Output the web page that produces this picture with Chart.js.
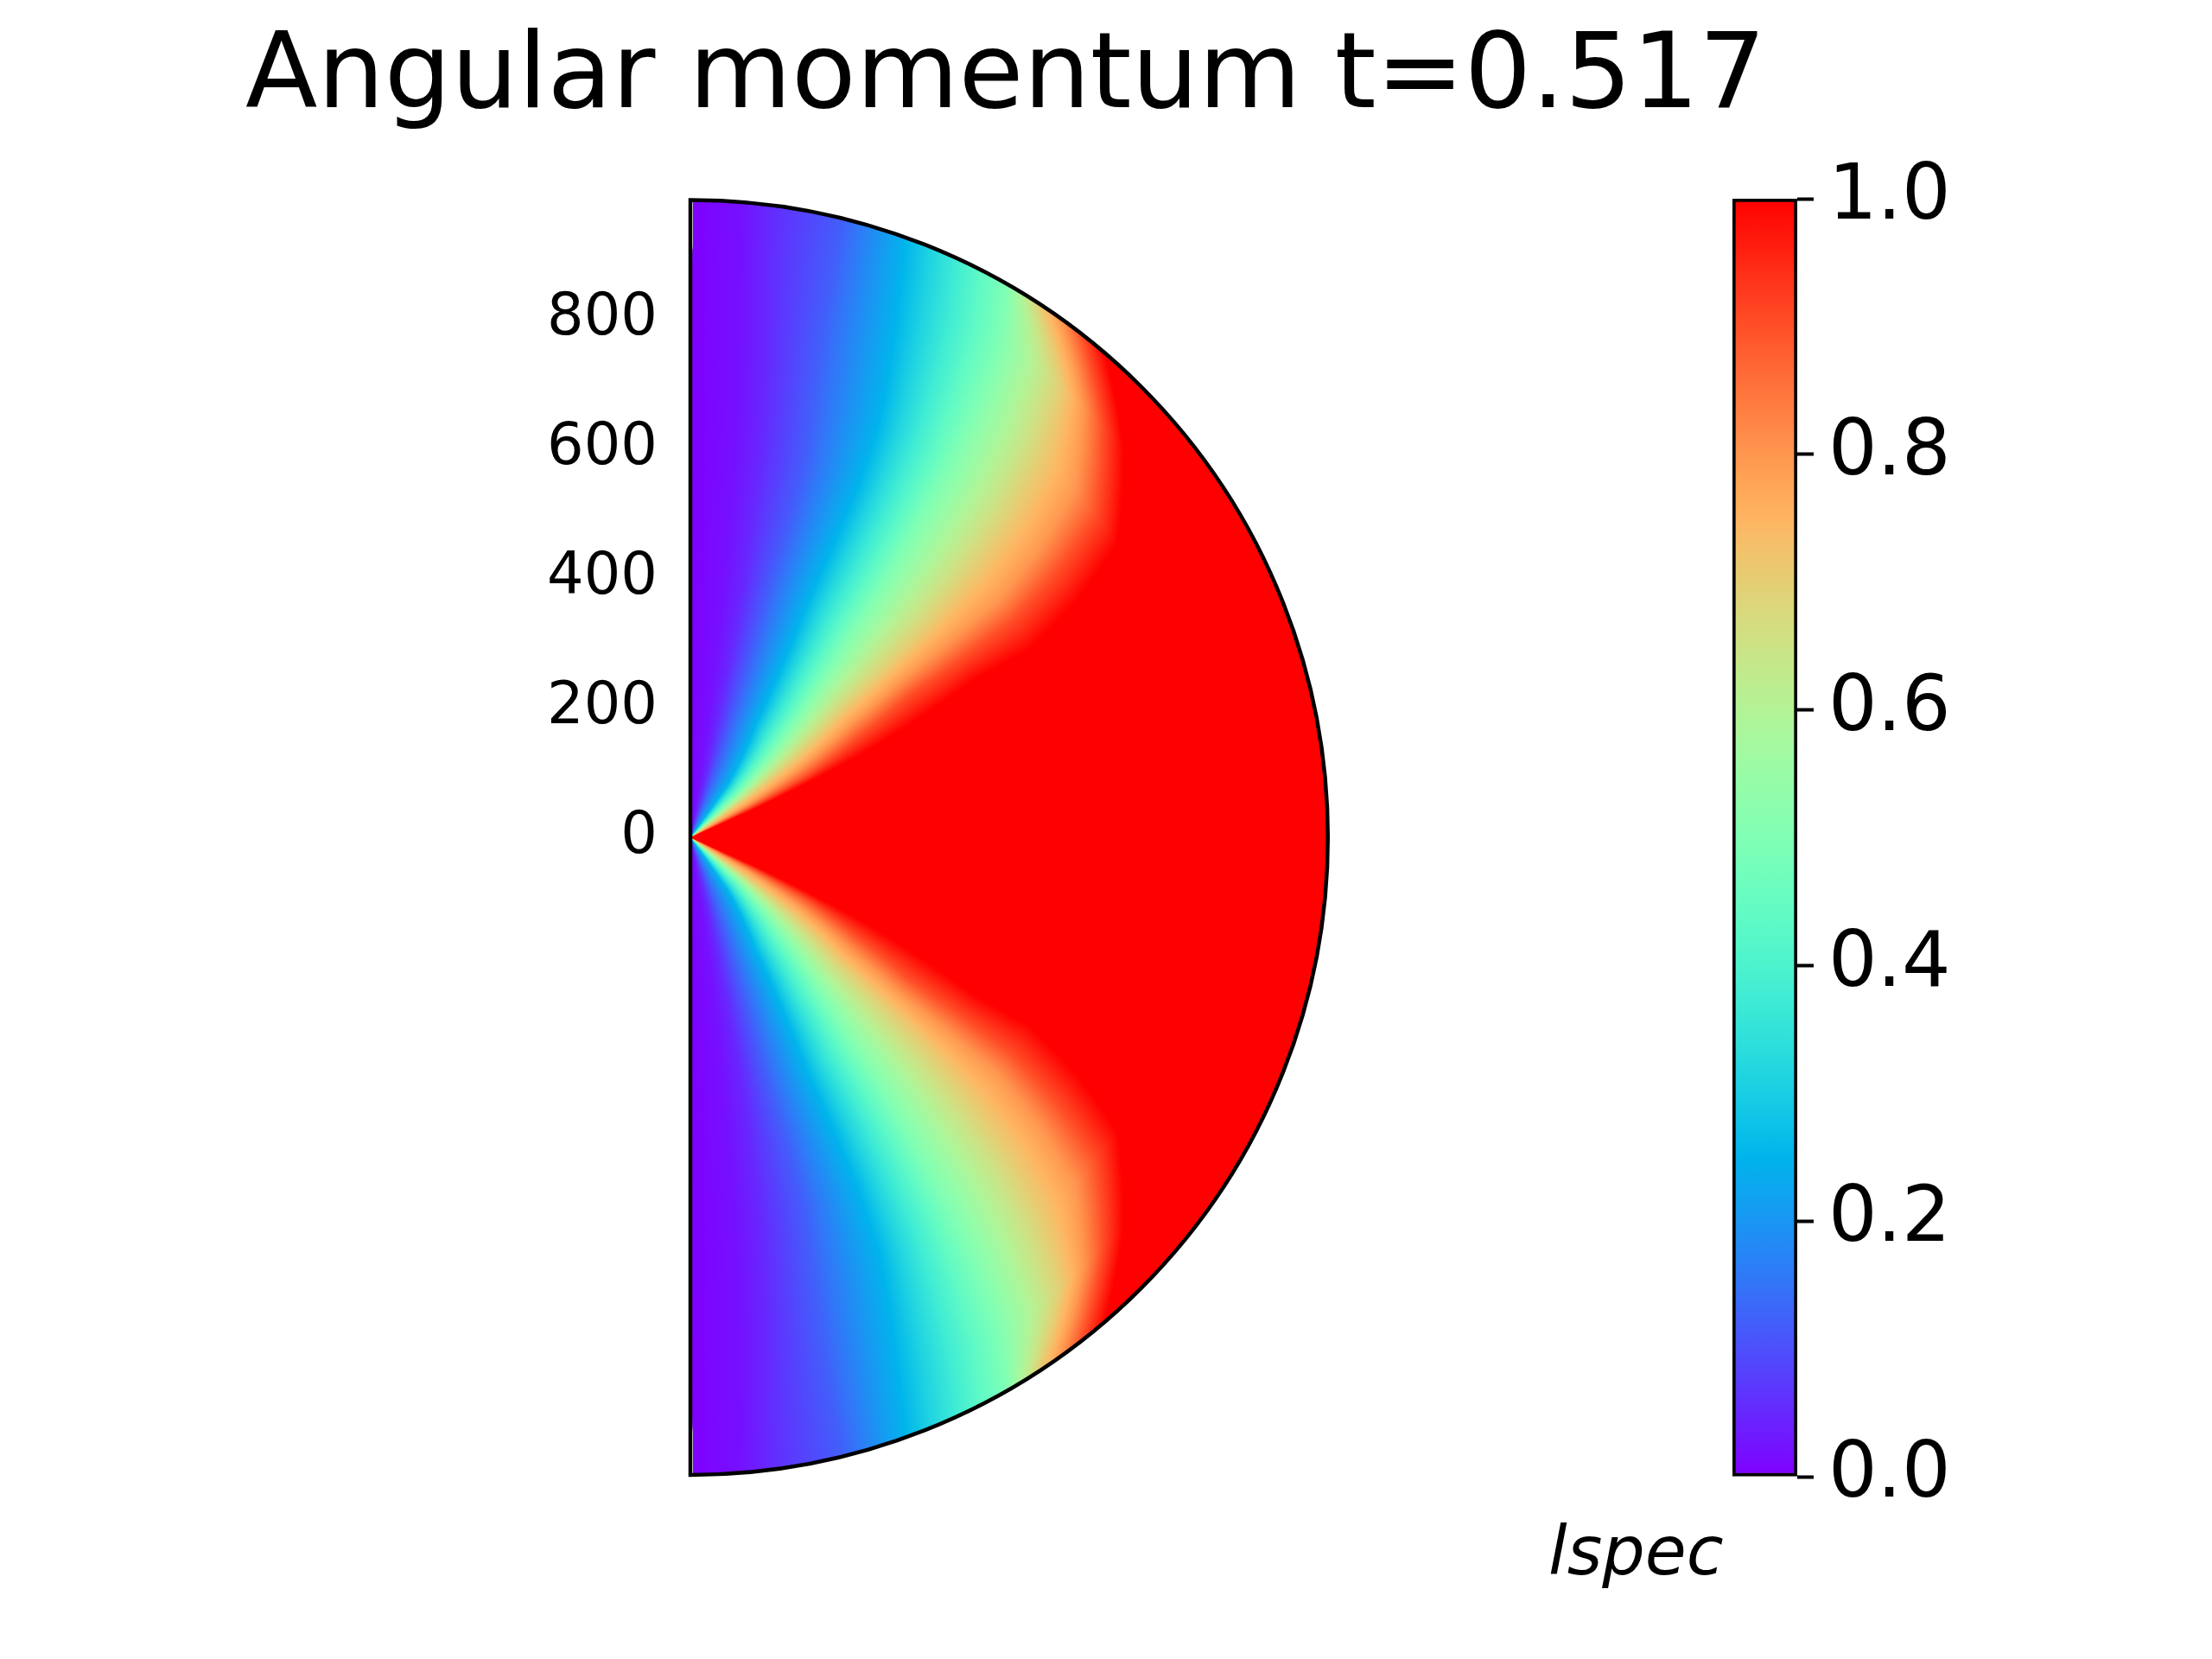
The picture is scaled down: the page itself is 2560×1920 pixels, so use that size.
<!DOCTYPE html>
<html>
<head>
<meta charset="utf-8">
<title>Angular momentum t=0.517</title>
<script src="https://cdn.jsdelivr.net/npm/chart.js@4.4.1/dist/chart.umd.min.js"></script>
<style>
  body { margin: 0; background: #fff; }
  #wrap { position: relative; width: 2560px; height: 1920px; }
  #main { position: absolute; left: 0; top: 0; width: 2560px; height: 1920px; }
  #cbar { position: absolute; left: 1700px; top: 0; width: 860px; height: 1920px; }
</style>
</head>
<body>
<div id="wrap">
  <div id="main"><canvas id="field"></canvas></div>
  <div id="cbar"><canvas id="colorbar"></canvas></div>
</div>
<script>
const TITLE = "Angular momentum t=0.517";
const CBAR_LABEL = "lspec";
const R_MAX = 985;
const X_MAX = 1688;
const Y_TICKS = [0, 200, 400, 600, 800];
const CBAR_TICKS = [0, 0.2, 0.4, 0.6, 0.8, 1.0];
const CBAR_RANGE = [0, 1];

const RADII = [0, 100, 200, 300, 400, 500, 600, 700, 800, 900, 985];
// lspec levels; pole is 0
const LEVELS = [0.02, 0.05, 0.12, 0.25, 0.5, 0.7, 0.8, 0.9, 1.0];
// angle from the north pole (deg) where each level is reached, per radius
// (the southern half is the mirror image)
const ang002 = [9, 9, 8.5, 8, 7.5, 7, 6.5, 6, 5.5, 5, 4.5];
const ang005 = [14, 14, 13, 12.5, 12, 11, 10.5, 9.5, 8.5, 7.5, 7];
const ang012 = [21, 20.5, 19, 18.2, 17.5, 17.5, 17, 15.5, 14.5, 14, 13.7];
const ang025 = [36, 35, 30, 28, 26.5, 26, 25.5, 24.5, 22.7, 21, 19.7];
const ang050 = [48, 47, 43, 40, 38, 37, 35.8, 34.8, 33.5, 32, 29.7];
const ang070 = [56, 55, 53, 50, 49, 48, 46.5, 44.8, 42.5, 39.5, 33];
const ang080 = [61, 60.5, 58, 55, 53.5, 53, 52.5, 50.5, 48, 42.5, 35.5];
const ang090 = [64, 63.5, 62, 59, 57, 56.5, 56, 54, 51.5, 45, 37.8];
const ang100 = [66, 66, 65, 64, 62.5, 61, 61, 58.5, 55.5, 48, 40.5];
const LEVEL_ANGLES = [ang002, ang005, ang012, ang025, ang050, ang070, ang080, ang090, ang100];

// matplotlib "rainbow"
function rainbow(v) {
  const r = Math.min(1, Math.abs(2 * v - 0.5));
  const g = Math.sin(Math.PI * v);
  const b = Math.cos(Math.PI * v / 2);
  return "rgb(" + Math.round(r * 255) + "," + Math.round(g * 255) + "," + Math.round(b * 255) + ")";
}

function anglesAt(r) {
  let i = 0;
  while (i < RADII.length - 2 && r > RADII[i + 1]) i++;
  let f = (r - RADII[i]) / (RADII[i + 1] - RADII[i]);
  f = Math.max(0, Math.min(1, f));
  return LEVEL_ANGLES.map(a => a[i] + (a[i + 1] - a[i]) * f);
}

// colour stops [angleDeg, value] along one ring
function ringStops(r) {
  const ang = anglesAt(r);
  const pts = [[0, 0]];
  LEVELS.forEach((v, k) => pts.push([ang[k], v]));
  const out = [];
  for (let k = 0; k < pts.length; k++) {
    if (k > 0) {
      const [a0, v0] = pts[k - 1];
      const [a1, v1] = pts[k];
      for (let s = 1; s < 4; s++) {
        out.push([a0 + (a1 - a0) * s / 4, v0 + (v1 - v0) * s / 4]);
      }
    }
    out.push(pts[k]);
  }
  return out;
}

const fieldPlugin = {
  id: "field",
  beforeDatasetsDraw(chart) {
    const ctx = chart.ctx;
    const xs = chart.scales.x, ys = chart.scales.y;
    const cx = xs.getPixelForValue(0);
    const cy = ys.getPixelForValue(0);
    const Rp = Math.abs(ys.getPixelForValue(R_MAX) - cy);
    const gap = 0.25 * Math.PI / 180;
    const N = 420;
    ctx.save();
    for (let i = N; i >= 1; i--) {
      const rp = Math.abs(ys.getPixelForValue(R_MAX * i / N) - cy);
      const stops = ringStops(R_MAX * (i - 0.5) / N);
      if (ctx.createConicGradient) {
        const g = ctx.createConicGradient(-Math.PI / 2, cx, cy);
        stops.forEach(([a, v]) => g.addColorStop(a / 360, rainbow(v)));
        for (let k = stops.length - 1; k >= 0; k--) {
          g.addColorStop((180 - stops[k][0]) / 360, rainbow(stops[k][1]));
        }
        ctx.fillStyle = g;
        ctx.beginPath();
        ctx.moveTo(cx, cy);
        ctx.arc(cx, cy, rp, -Math.PI / 2 + gap, Math.PI / 2 - gap);
        ctx.closePath();
        ctx.fill();
      } else {
        for (let a = 0; a < 180; a += 1) {
          const m = Math.min(a + 0.5, 179.5);
          const mm = m > 90 ? 180 - m : m;
          let v = 1;
          for (let k = 0; k < stops.length; k++) {
            if (mm <= stops[k][0]) {
              const p = k ? stops[k - 1] : [0, 0];
              v = p[1] + (stops[k][1] - p[1]) * (mm - p[0]) / Math.max(1e-6, stops[k][0] - p[0]);
              break;
            }
          }
          ctx.fillStyle = rainbow(v);
          ctx.beginPath();
          ctx.moveTo(cx, cy);
          ctx.arc(cx, cy, rp, (a - 90.6) * Math.PI / 180, (a - 88.9) * Math.PI / 180);
          ctx.closePath();
          ctx.fill();
        }
      }
    }
    ctx.beginPath();
    ctx.arc(cx, cy, Rp, -Math.PI / 2, Math.PI / 2);
    ctx.closePath();
    ctx.lineWidth = 4.5;
    ctx.strokeStyle = "#000";
    ctx.stroke();
    ctx.restore();
  }
};

new Chart(document.getElementById("field"), {
  type: "scatter",
  data: { datasets: [] },
  options: {
    responsive: true,
    maintainAspectRatio: false,
    animation: false,
    devicePixelRatio: 1,
    layout: { padding: { left: 264, right: 496, top: 0, bottom: 213 } },
    plugins: {
      legend: { display: false },
      tooltip: { enabled: false },
      title: {
        display: true,
        text: TITLE,
        color: "#000",
        font: { family: "'DejaVu Sans'", size: 122, weight: "normal", lineHeight: 1.2 },
        padding: { top: 19, bottom: 66 }
      }
    },
    scales: {
      x: { type: "linear", min: 0, max: X_MAX, display: false },
      y: {
        type: "linear",
        min: -R_MAX,
        max: R_MAX,
        position: "left",
        afterFit: s => { s.width = 535; },
        afterBuildTicks: s => { s.ticks = Y_TICKS.map(v => ({ value: v })); },
        grid: { display: false, drawTicks: false, tickLength: 0 },
        border: { display: false },
        ticks: {
          color: "#000",
          padding: 38,
          autoSkip: false,
          font: { family: "'DejaVu Sans'", size: 67 },
          callback: v => String(v)
        }
      }
    }
  },
  plugins: [fieldPlugin]
});

function cbarFill(context) {
  const chart = context.chart;
  const area = chart.chartArea;
  if (!area) return rainbow(0.5);
  const g = chart.ctx.createLinearGradient(0, area.bottom, 0, area.top);
  for (let i = 0; i <= 40; i++) g.addColorStop(i / 40, rainbow(i / 40));
  return g;
}

const cbarLabelPlugin = {
  id: "cbarLabel",
  afterDraw(chart) {
    const ctx = chart.ctx;
    const a = chart.chartArea;
    ctx.save();
    ctx.font = "italic 78px 'DejaVu Sans'";
    ctx.fillStyle = "#000";
    ctx.textAlign = "left";
    ctx.textBaseline = "alphabetic";
    ctx.fillText(CBAR_LABEL, a.left - 213, a.bottom + 113);
    ctx.restore();
  }
};

new Chart(document.getElementById("colorbar"), {
  type: "bar",
  data: {
    labels: [CBAR_LABEL],
    datasets: [{
      data: [CBAR_RANGE],
      backgroundColor: cbarFill,
      borderColor: "#000",
      borderWidth: 4,
      borderSkipped: false,
      categoryPercentage: 1,
      barPercentage: 1
    }]
  },
  options: {
    responsive: true,
    maintainAspectRatio: false,
    animation: false,
    devicePixelRatio: 1,
    layout: { padding: { left: 305, right: 0, top: 230, bottom: 211 } },
    plugins: { legend: { display: false }, tooltip: { enabled: false } },
    scales: {
      x: { display: false },
      y: {
        position: "right",
        min: 0,
        max: 1,
        afterFit: s => { s.width = 480; },
        afterBuildTicks: s => { s.ticks = CBAR_TICKS.map(v => ({ value: v })); },
        grid: { drawOnChartArea: false, drawTicks: true, tickLength: 19, tickWidth: 4, tickColor: "#000" },
        border: { display: false },
        ticks: {
          color: "#000",
          padding: 17,
          autoSkip: false,
          font: { family: "'DejaVu Sans'", size: 89 },
          callback: v => v.toFixed(1)
        }
      }
    }
  },
  plugins: [cbarLabelPlugin]
});
</script>
</body>
</html>
